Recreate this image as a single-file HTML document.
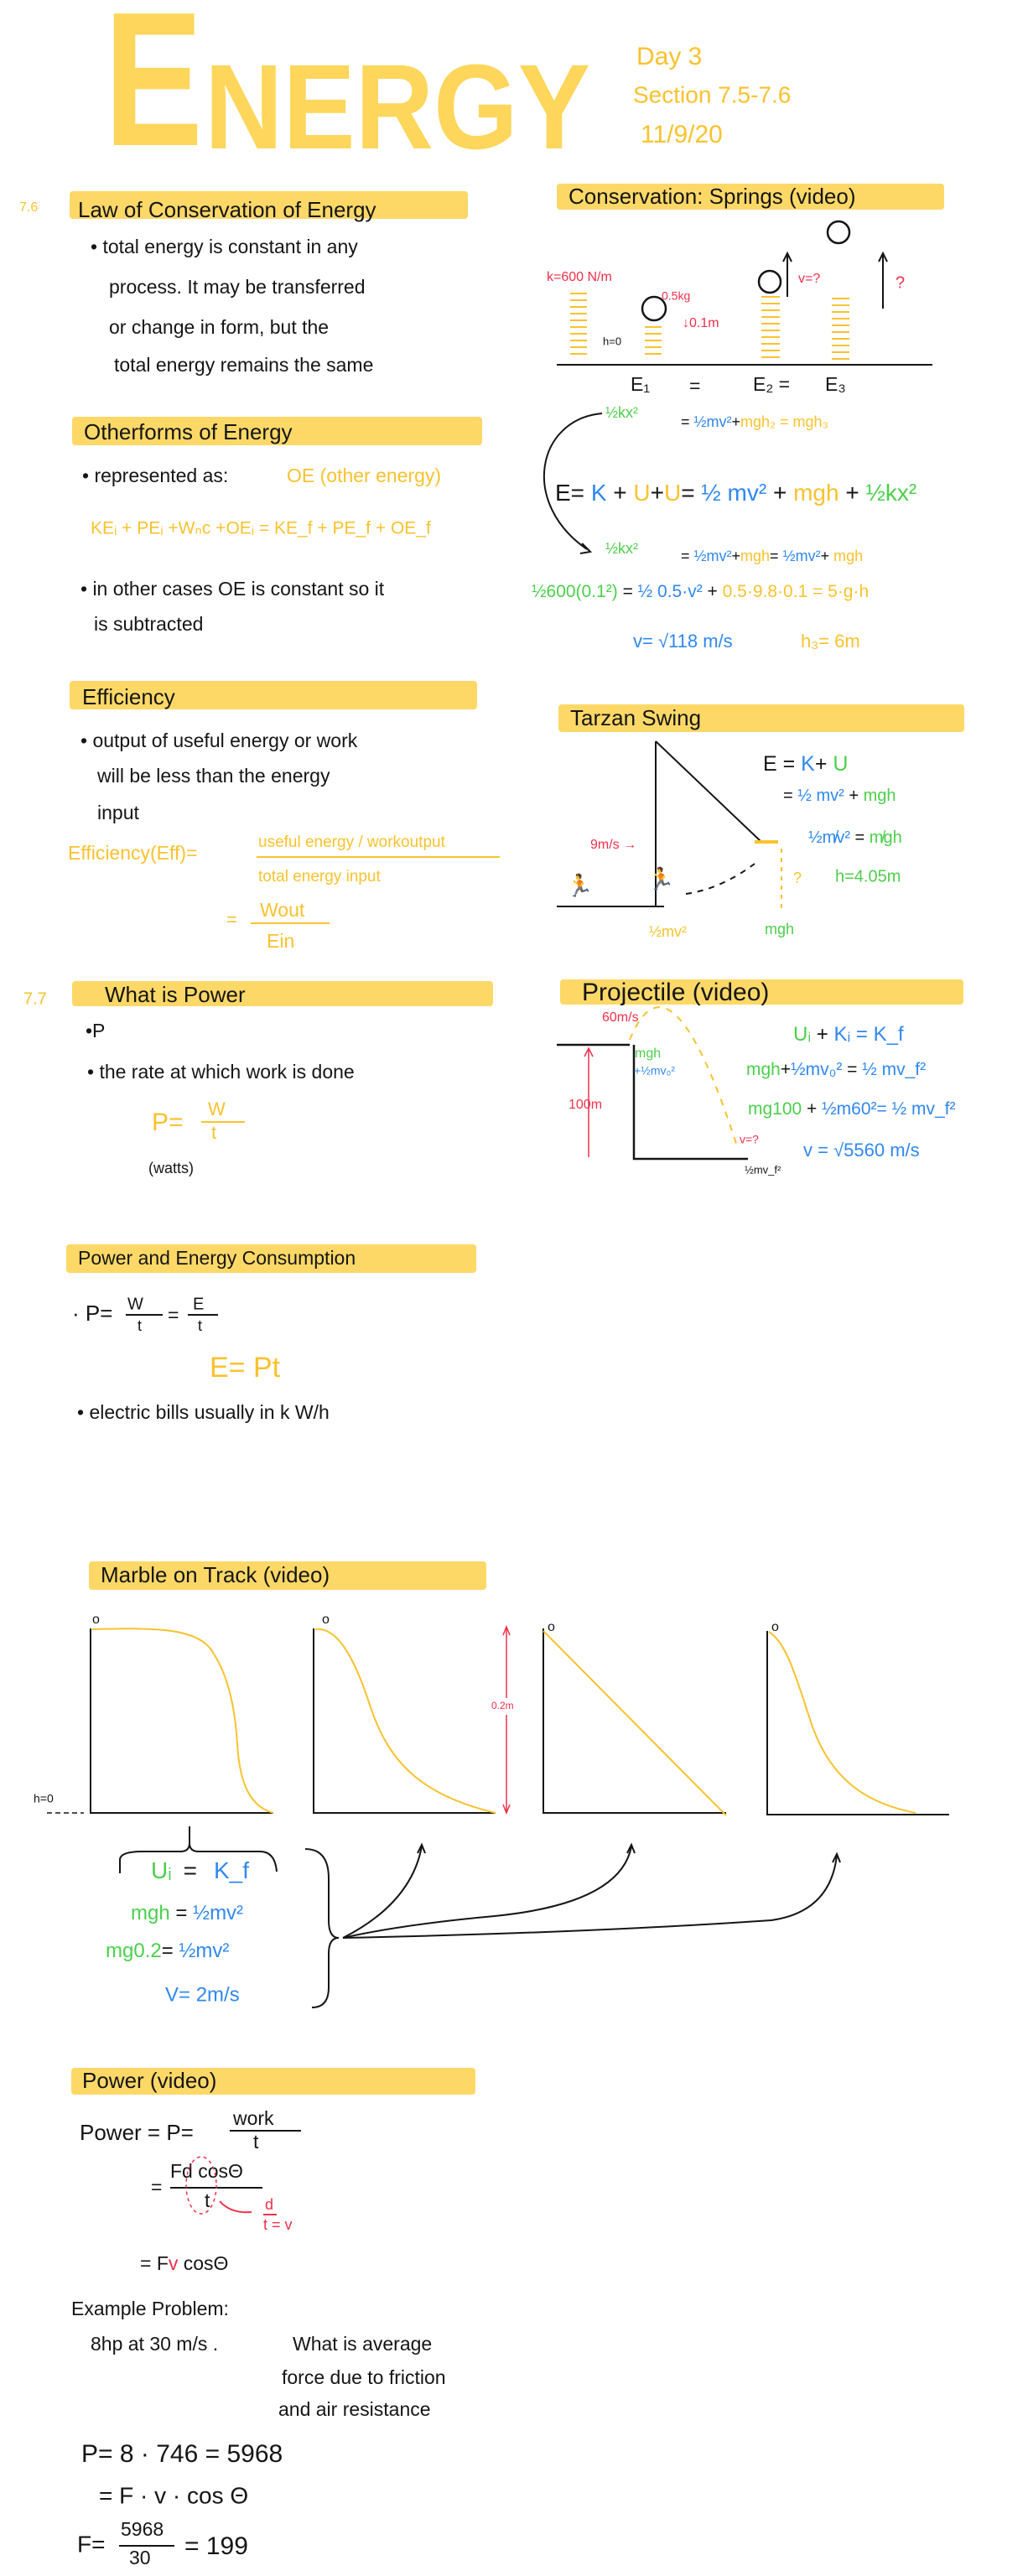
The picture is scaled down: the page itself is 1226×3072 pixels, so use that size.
<!DOCTYPE html>
<html><head><meta charset="utf-8"><title>Energy notes</title>
<style>
html,body{margin:0;padding:0;background:#fff;}
svg{display:block;}
text{font-family:"Liberation Sans",sans-serif;dominant-baseline:middle;}
.k{fill:#151515;font-size:23px;}
.t{fill:#151515;font-size:26px;}
.y{fill:#f9c22e;}
.g{fill:#4ccf4c;}
.b{fill:#2f88f0;}
.r{fill:#f0304a;}
.hl{fill:#fdd55a;opacity:.92;}
</style></head>
<body>
<svg width="1226" height="3072" viewBox="0 0 1226 3072" xmlns="http://www.w3.org/2000/svg">
<!-- Title -->
<g>
<text x="124" y="173" fill="#fdd24a" opacity=".9" style="font-size:228px;font-weight:bold;dominant-baseline:alphabetic" textLength="118" lengthAdjust="spacingAndGlyphs">E</text>
<text x="244" y="177" fill="#fdd24a" opacity=".9" style="font-size:144px;font-weight:bold;dominant-baseline:alphabetic" textLength="460" lengthAdjust="spacingAndGlyphs">NERGY</text>
</g>
<text x="759" y="69" class="y" style="font-size:30px">Day 3</text>
<text x="755" y="115" class="y" style="font-size:28px">Section 7.5-7.6</text>
<text x="764" y="162" class="y" style="font-size:30px">11/9/20</text>

<!-- Highlight bars -->
<rect class="hl" x="83" y="228" width="475" height="33" rx="4"/>
<rect class="hl" x="664" y="219" width="462" height="31" rx="4"/>
<rect class="hl" x="86" y="497" width="489" height="34" rx="4"/>
<rect class="hl" x="83" y="812" width="486" height="34" rx="4"/>
<rect class="hl" x="666" y="840" width="484" height="33" rx="4"/>
<rect class="hl" x="86" y="1170" width="502" height="30" rx="4"/>
<rect class="hl" x="668" y="1168" width="481" height="30" rx="4"/>
<rect class="hl" x="79" y="1484" width="489" height="34" rx="4"/>
<rect class="hl" x="106" y="1862" width="474" height="34" rx="4"/>
<rect class="hl" x="85" y="2466" width="482" height="32" rx="4"/>

<!-- Left column: Law of conservation -->
<text x="23" y="248" class="y" style="font-size:16px">7.6</text>
<text x="93" y="252" class="t">Law of Conservation of Energy</text>
<text x="108" y="296" class="k">• total energy is constant in any</text>
<text x="130" y="344" class="k">process. It may be transferred</text>
<text x="130" y="392" class="k">or change in form, but the</text>
<text x="136" y="437" class="k">total  energy  remains  the same</text>

<text x="100" y="517" class="t">Otherforms of Energy</text>
<text x="98" y="569" class="k">• represented as:</text>
<text x="342" y="569" class="k y">OE (other energy)</text>
<text x="108" y="631" class="y" style="font-size:21px">KEᵢ + PEᵢ +Wₙc +OEᵢ = KE_f + PE_f + OE_f</text>
<text x="96" y="704" class="k">• in other cases  OE is constant  so it</text>
<text x="112" y="746" class="k">is subtracted</text>

<text x="98" y="833" class="t">Efficiency</text>
<text x="96" y="885" class="k">• output of useful energy or work</text>
<text x="116" y="927" class="k">will  be  less  than the  energy</text>
<text x="116" y="971" class="k">input</text>
<text x="81" y="1019" class="y" style="font-size:23px">Efficiency(Eff)=</text>
<text x="308" y="1005" class="y" style="font-size:19px">useful energy / workoutput</text>
<line x1="306" y1="1022" x2="596" y2="1022" stroke="#f9c22e" stroke-width="2"/>
<text x="308" y="1046" class="y" style="font-size:19px">total energy  input</text>
<text x="270" y="1098" class="y" style="font-size:22px">=</text>
<text x="310" y="1087" class="y" style="font-size:23px">Wout</text>
<line x1="299" y1="1101" x2="393" y2="1101" stroke="#f9c22e" stroke-width="2"/>
<text x="318" y="1124" class="y" style="font-size:23px">Ein</text>

<!-- What is power -->
<text x="28" y="1192" class="y" style="font-size:20px">7.7</text>
<text x="125" y="1188" class="t">What  is  Power</text>
<text x="102" y="1231" class="k">•P</text>
<text x="104" y="1280" class="k">• the rate at  which  work is done</text>
<text x="181" y="1340" class="y" style="font-size:30px">P=</text>
<text x="248" y="1324" class="y" style="font-size:22px">W</text>
<line x1="240" y1="1338" x2="292" y2="1338" stroke="#f9c22e" stroke-width="2"/>
<text x="252" y="1352" class="y" style="font-size:22px">t</text>
<text x="177" y="1394" class="k" style="font-size:18px">(watts)</text>

<!-- Power and energy consumption -->
<text x="93" y="1502" class="k">Power and Energy Consumption</text>
<text x="86" y="1568" class="t">· P= </text>
<text x="152" y="1556" class="k" style="font-size:20px">W</text>
<line x1="150" y1="1568" x2="194" y2="1568" stroke="#151515" stroke-width="2"/>
<text x="164" y="1582" class="k" style="font-size:18px">t</text>
<text x="200" y="1570" class="k">=</text>
<text x="230" y="1556" class="k" style="font-size:20px">E</text>
<line x1="224" y1="1568" x2="260" y2="1568" stroke="#151515" stroke-width="2"/>
<text x="236" y="1582" class="k" style="font-size:18px">t</text>
<text x="250" y="1633" class="y" style="font-size:34px">E= Pt</text>
<text x="92" y="1686" class="k">• electric bills usually in  k W/h</text>

<!-- Power (video) -->
<text x="98" y="2483" class="t">Power (video)</text>
<text x="95" y="2545" class="t">Power = P=</text>
<text x="278" y="2528" class="k">work</text>
<line x1="274" y1="2541" x2="359" y2="2541" stroke="#151515" stroke-width="2"/>
<text x="302" y="2556" class="k">t</text>
<text x="180" y="2610" class="k">=</text>
<text x="203" y="2591" class="k">Fd cosΘ</text>
<line x1="203" y1="2609" x2="313" y2="2609" stroke="#151515" stroke-width="2"/>
<text x="244" y="2626" class="k">t</text>
<ellipse cx="240" cy="2606" rx="18" ry="34" fill="none" stroke="#f0304a" stroke-width="1.5" stroke-dasharray="4 4"/>
<path d="M262 2625 Q275 2640 300 2638" fill="none" stroke="#f0304a" stroke-width="2"/>
<text x="316" y="2630" class="r" style="font-size:18px">d</text>
<line x1="314" y1="2641" x2="330" y2="2641" stroke="#f0304a" stroke-width="2"/>
<text x="314" y="2654" class="r" style="font-size:18px">t = v</text>
<text x="167" y="2701" class="k">=  F<tspan class="r">v</tspan> cosΘ</text>
<text x="85" y="2755" class="k">Example Problem:</text>
<text x="108" y="2797" class="k">8hp  at  30 m/s .</text>
<text x="349" y="2797" class="k">What  is average</text>
<text x="336" y="2837" class="k">force  due to friction</text>
<text x="332" y="2875" class="k">and  air  resistance</text>
<text x="97" y="2928" class="t" style="font-size:30px">P= 8 · 746 = 5968</text>
<text x="118" y="2978" class="t" style="font-size:28px">=  F · v · cos Θ</text>
<text x="92" y="3036" class="t" style="font-size:28px">F=</text>
<text x="144" y="3018" class="k">5968</text>
<line x1="142" y1="3036" x2="208" y2="3036" stroke="#151515" stroke-width="2"/>
<text x="154" y="3052" class="k">30</text>
<text x="220" y="3038" class="t" style="font-size:30px">= 199</text>

<!-- Springs -->
<text x="678" y="236" class="t">Conservation: Springs (video)</text>
<text x="652" y="331" class="r" style="font-size:16px">k=600 N/m</text>
<g fill="none" stroke="#f9c22e" stroke-width="2">
<path d="M680 350 h20 M680 358 h20 M680 366 h20 M680 374 h20 M680 382 h20 M680 390 h20 M680 398 h20 M680 406 h20 M680 414 h20 M680 422 h20"/>
<path d="M769 390 h20 M769 398 h20 M769 406 h20 M769 414 h20 M769 422 h20"/>
<path d="M908 354 h22 M908 362 h22 M908 370 h22 M908 378 h22 M908 386 h22 M908 394 h22 M908 402 h22 M908 410 h22 M908 418 h22 M908 426 h22"/>
<path d="M992 356 h21 M992 364 h21 M992 372 h21 M992 380 h21 M992 388 h21 M992 396 h21 M992 404 h21 M992 412 h21 M992 420 h21 M992 428 h21"/>
</g>
<circle cx="780" cy="368" r="14" fill="none" stroke="#151515" stroke-width="2.5"/>
<circle cx="918" cy="336" r="13" fill="none" stroke="#151515" stroke-width="2.5"/>
<circle cx="1000" cy="277" r="13" fill="none" stroke="#151515" stroke-width="2.5"/>
<text x="789" y="354" class="r" style="font-size:14px">0.5kg</text>
<text x="814" y="386" class="r" style="font-size:16px">↓0.1m</text>
<text x="719" y="408" class="k" style="font-size:13px">h=0</text>
<path d="M939 354 V304 M934 312 L939 302 L944 312" stroke="#151515" stroke-width="2" fill="none"/>
<text x="952" y="333" class="r" style="font-size:16px">v=?</text>
<path d="M1053 368 V304 M1048 312 L1053 302 L1058 312" stroke="#151515" stroke-width="2" fill="none"/>
<text x="1068" y="338" class="r" style="font-size:20px">?</text>
<line x1="664" y1="435" x2="1112" y2="435" stroke="#151515" stroke-width="2"/>
<text x="752" y="460" class="k">E₁</text>
<text x="822" y="462" class="k">=</text>
<text x="898" y="460" class="k">E₂ =</text>
<text x="984" y="460" class="k">E₃</text>
<text x="722" y="493" class="g" style="font-size:18px">½kx²</text>
<text x="812" y="504" style="font-size:18px"><tspan fill="#151515">= </tspan><tspan class="b">½mv²</tspan><tspan fill="#151515">+</tspan><tspan class="y">mgh₂ = mgh₃</tspan></text>
<path d="M718 493 C640 500 620 600 700 655" fill="none" stroke="#151515" stroke-width="2"/>
<path d="M694 648 L704 658 L692 660" fill="none" stroke="#151515" stroke-width="2"/>
<text x="662" y="590" style="font-size:28px"><tspan fill="#151515">E= </tspan><tspan class="b">K</tspan><tspan fill="#151515"> + </tspan><tspan class="y">U</tspan><tspan fill="#151515">+</tspan><tspan class="y">U</tspan><tspan fill="#151515">= </tspan><tspan class="b">½ mv²</tspan><tspan fill="#151515"> + </tspan><tspan class="y">mgh</tspan><tspan fill="#151515"> + </tspan><tspan class="g">½kx²</tspan></text>
<text x="722" y="655" class="g" style="font-size:18px">½kx²</text>
<text x="812" y="664" style="font-size:18px"><tspan fill="#151515">= </tspan><tspan class="b">½mv²</tspan><tspan fill="#151515">+</tspan><tspan class="y">mgh</tspan><tspan fill="#151515">= </tspan><tspan class="b">½mv²</tspan><tspan fill="#151515">+ </tspan><tspan class="y">mgh</tspan></text>
<text x="634" y="706" style="font-size:21px"><tspan class="g">½600(0.1²)</tspan><tspan fill="#151515"> = </tspan><tspan class="b">½ 0.5·v²</tspan><tspan fill="#151515"> + </tspan><tspan class="y">0.5·9.8·0.1 = 5·g·h</tspan></text>
<text x="755" y="766" class="b" style="font-size:22px">v= √118  m/s</text>
<text x="955" y="766" class="y" style="font-size:22px">h₃= 6m</text>

<!-- Tarzan -->
<text x="680" y="858" class="t">Tarzan Swing</text>
<line x1="782" y1="884" x2="782" y2="1081" stroke="#151515" stroke-width="2"/>
<line x1="782" y1="884" x2="908" y2="1004" stroke="#151515" stroke-width="2"/>
<line x1="664" y1="1081" x2="792" y2="1081" stroke="#151515" stroke-width="2"/>
<path d="M818 1066 Q860 1060 900 1030" fill="none" stroke="#151515" stroke-width="2" stroke-dasharray="7 7"/>
<text x="675" y="1058" class="y" style="font-size:26px">🏃</text>
<text x="772" y="1050" class="y" style="font-size:26px">🏃</text>
<path d="M900 1004 h28" stroke="#f9c22e" stroke-width="4"/>
<line x1="932" y1="1012" x2="932" y2="1085" stroke="#f9c22e" stroke-width="2" stroke-dasharray="5 6"/>
<text x="946" y="1048" class="y" style="font-size:18px">?</text>
<text x="704" y="1008" class="r" style="font-size:16px">9m/s →</text>
<text x="774" y="1112" class="y" style="font-size:18px">½mv²</text>
<text x="912" y="1109" class="g" style="font-size:18px">mgh</text>
<text x="910" y="912" style="font-size:25px"><tspan fill="#151515">E = </tspan><tspan class="b">K</tspan><tspan fill="#151515">+ </tspan><tspan class="g">U</tspan></text>
<text x="934" y="950" style="font-size:20px"><tspan fill="#151515">= </tspan><tspan class="b">½ mv²</tspan><tspan fill="#151515"> + </tspan><tspan class="g">mgh</tspan></text>
<text x="964" y="1000" style="font-size:20px"><tspan class="b">½m̸v²</tspan><tspan fill="#151515"> = </tspan><tspan class="g">m̸gh</tspan></text>
<text x="996" y="1046" class="g" style="font-size:20px">h=4.05m</text>

<!-- Projectile -->
<text x="694" y="1185" class="t" style="font-size:30px">Projectile (video)</text>
<path d="M664 1246 H751 M756 1246 V1382 H892" fill="none" stroke="#151515" stroke-width="2.5"/>
<path d="M751 1240 Q800 1120 880 1370" fill="none" stroke="#f9c22e" stroke-width="2" stroke-dasharray="8 8"/>
<text x="718" y="1214" class="r" style="font-size:16px">60m/s</text>
<path d="M702 1380 V1252 M697 1260 L702 1250 L707 1260" fill="none" stroke="#f0304a" stroke-width="1.5"/>
<text x="678" y="1318" class="r" style="font-size:16px">100m</text>
<text x="757" y="1257" class="g" style="font-size:16px">mgh</text>
<text x="756" y="1278" class="b" style="font-size:14px">+½mv₀²</text>
<text x="882" y="1360" class="r" style="font-size:14px">v=?</text>
<text x="888" y="1396" class="k" style="font-size:13px">½mv_f²</text>
<text x="946" y="1235" style="font-size:24px"><tspan class="g">Uᵢ</tspan><tspan fill="#151515"> + </tspan><tspan class="b">Kᵢ = K_f</tspan></text>
<text x="890" y="1276" style="font-size:21px"><tspan class="g">mgh</tspan><tspan fill="#151515">+</tspan><tspan class="b">½mv₀²</tspan><tspan fill="#151515"> = </tspan><tspan class="b">½ mv_f²</tspan></text>
<text x="892" y="1323" style="font-size:21px"><tspan class="g">mg100</tspan><tspan fill="#151515"> + </tspan><tspan class="b">½m60²= ½ mv_f²</tspan></text>
<text x="958" y="1373" class="b" style="font-size:22px">v = √5560  m/s</text>

<!-- Marble on track -->
<text x="120" y="1880" class="t">Marble on Track (video)</text>
<g stroke="#151515" stroke-width="2" fill="none">
<path d="M108 1942 V2162 H326"/><path d="M374 1942 V2162 H591"/><path d="M648 1942 V2162 H866"/><path d="M915 1945 V2164 H1132"/>
</g>
<g stroke="#f9c22e" stroke-width="2" fill="none">
<path d="M110 1943 C180 1941 230 1941 250 1965 C270 1992 280 2030 283 2080 C286 2130 300 2155 326 2162"/>
<path d="M376 1943 C400 1940 420 1970 440 2030 C462 2100 500 2140 591 2162"/>
<path d="M648 1945 L866 2165"/>
<path d="M917 1946 C940 1960 952 2010 970 2062 C992 2120 1030 2150 1092 2162"/>
</g>
<text x="110" y="1932" class="k" style="font-size:16px">o</text>
<text x="384" y="1932" class="k" style="font-size:16px">o</text>
<text x="653" y="1941" class="k" style="font-size:16px">o</text>
<text x="920" y="1941" class="k" style="font-size:16px">o</text>
<text x="40" y="2146" class="k" style="font-size:14px">h=0</text>
<path d="M56 2162 H100" stroke="#151515" stroke-width="1.5" stroke-dasharray="6 4"/>
<path d="M604 2025 V1942 M600 1950 L604 1940 L608 1950 M604 2045 V2160 M600 2152 L604 2162 L608 2152" fill="none" stroke="#f0304a" stroke-width="1.5"/>
<text x="586" y="2035" class="r" style="font-size:12px">0.2m</text>
<path d="M143 2234 V2218 Q143 2208 170 2208 H215 Q226 2208 226 2198 Q226 2208 237 2208 H310 Q328 2208 330 2232" fill="none" stroke="#151515" stroke-width="2"/>
<path d="M226 2198 V2178" stroke="#151515" stroke-width="2"/>
<text x="180" y="2233" style="font-size:28px"><tspan class="g">Uᵢ</tspan><tspan fill="#151515" dx="14">=</tspan><tspan class="b" dx="20">K_f</tspan></text>
<text x="156" y="2283" style="font-size:24px"><tspan class="g">mgh</tspan><tspan fill="#151515"> = </tspan><tspan class="b">½mv²</tspan></text>
<text x="126" y="2328" style="font-size:24px"><tspan class="g">mg0.2</tspan><tspan fill="#151515">= </tspan><tspan class="b">½mv²</tspan></text>
<text x="197" y="2380" class="b" style="font-size:24px">V= 2m/s</text>
<path d="M364 2205 Q392 2205 392 2240 V2290 Q392 2311 404 2311 Q392 2311 392 2330 V2370 Q392 2394 372 2394" fill="none" stroke="#151515" stroke-width="2"/>
<g fill="none" stroke="#151515" stroke-width="2">
<path d="M409 2311 Q490 2270 503 2202"/>
<path d="M409 2311 Q480 2295 590 2285 Q740 2270 753 2202"/>
<path d="M409 2311 Q700 2305 920 2290 Q990 2280 998 2213"/>
<path d="M498 2210 L503 2200 L507 2210 M748 2210 L753 2200 L757 2210 M993 2221 L998 2211 L1002 2221"/>
</g>
</svg>
</body></html>
